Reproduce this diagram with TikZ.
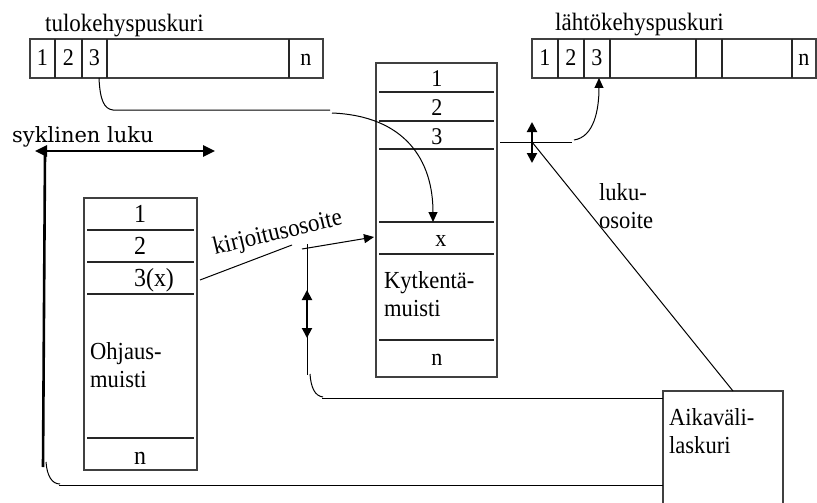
\documentclass[tikz,border=0pt]{standalone}
\usepackage{fontspec}
\setmainfont{Liberation Serif}[FakeStretch=0.92]
\newfontfamily\wideserif{DejaVu Serif}
\usetikzlibrary{arrows.meta}

\begin{document}
\begin{tikzpicture}[x=1pt,y=-1pt,
  frame/.style={draw=black!75, line width=1.1pt, inner sep=0pt, outer sep=0pt, anchor=north west},
  divider/.style={draw=black!85, line width=1.1pt},
  celltext/.style={font=\fontsize{24}{27}\selectfont, inner sep=0pt, anchor=base},
  bigcell/.style={font=\fontsize{26}{28}\selectfont, inner sep=0pt, anchor=base},
  blocktext/.style={font=\fontsize{24.5}{28.5}\selectfont, inner sep=0pt, align=left, anchor=west},
  title/.style={font=\fontsize{25}{28}\selectfont, inner sep=0pt, anchor=base west},
  wire/.style={draw=black, line width=1pt},
  tip/.style={-{Triangle[length=10pt,width=9pt]}},
  bus/.style={draw=black, line width=2pt, {Triangle[length=10pt,width=10pt]}-{Triangle[length=10pt,width=10pt]}},
  cycle bus/.style={draw=black, line width=2.6pt, {Triangle[length=12pt,width=11pt]}-{Triangle[length=12pt,width=11pt]}},
]
\useasboundingbox (0,0) rectangle (817,503);
\clip (0,0) rectangle (817,503);

% ---------- input frame buffer ----------
\node[title] (intitle) at (45,32) {tulokehyspuskuri};
\node[frame, minimum width=293pt, minimum height=39pt] (inbuf) at (30,39) {};
\foreach \xx in {55,82,107,289} \draw[divider] (\xx,39) -- (\xx,78);
\node[celltext] (in1) at (42.5,66) {1};
\node[celltext] (in2) at (68.5,66) {2};
\node[celltext] (in3) at (94.5,66) {3};
\node[celltext] (inn) at (306,66) {n};

% ---------- output frame buffer ----------
\node[title] (outtitle) at (555,31) {lähtökehyspuskuri};
\node[frame, minimum width=284pt, minimum height=39pt] (outbuf) at (532,39) {};
\foreach \xx in {558,584,610,696,722,792} \draw[divider] (\xx,39) -- (\xx,78);
\node[celltext] (out1) at (545,66) {1};
\node[celltext] (out2) at (571,66) {2};
\node[celltext] (out3) at (597,66) {3};
\node[celltext] (outn) at (804,66) {n};

% ---------- switching memory ----------
\node[frame, minimum width=121pt, minimum height=314pt] (kyt) at (376,63) {};
\foreach \yy in {92,121,149,222,254,340} \draw[divider] (379,\yy) -- (494,\yy);
\node[celltext] (kyt1) at (437,87) {1};
\node[celltext] (kyt2) at (437,115.5) {2};
\node[celltext] (kyt3) at (437,144) {3};
\node[celltext] (kytx) at (441,246) {x};
\node[celltext] (kytn) at (437,365) {n};
\node[blocktext] (kytname) at (384,294) {Kytkentä-\\muisti};

% ---------- control memory ----------
\node[frame, minimum width=113pt, minimum height=272pt] (ohj) at (84,198) {};
\foreach \yy in {230,262,294,438} \draw[divider] (87,\yy) -- (194,\yy);
\node[bigcell] (ohj1) at (140,222.5) {1};
\node[bigcell] (ohj2) at (140,254.5) {2};
\node[bigcell] (ohj3) at (154,286.5) {3(x)};
\node[bigcell] (ohjn) at (140,464) {n};
\node[blocktext] (ohjname) at (90,365) {Ohjaus-\\muisti};

% ---------- time slot counter ----------
\node[frame, minimum width=120pt, minimum height=130pt] (aika) at (663,391) {};
\node[blocktext] (aikaname) at (669,431) {Aikaväli-\\laskuri};

% ---------- labels ----------
\node[font=\wideserif\fontsize{21}{24}\selectfont, inner sep=0pt, anchor=base west] (sykl) at (12,142) {syklinen luku};
\node[blocktext] (lukuos) at (599,206) {luku-\\osoite};
\node[font=\fontsize{25}{28}\selectfont, inner sep=0pt, anchor=base west, rotate=13.5] (kirj) at (215,255) {kirjoitusosoite};

% ---------- connection points ----------
\coordinate (inC) at (99,78);
\coordinate (inB) at (113,110);
\coordinate (inE) at (330,110);
\coordinate (wrS) at (332,113);
\coordinate (kytX) at (433,222);
\coordinate (rdA) at (500,142);
\coordinate (rdB) at (572,142);
\coordinate (rdC) at (574,140);
\coordinate (outC) at (599,78);
\coordinate (rdV) at (532,142);
\coordinate (aikaT) at (733,391);
\coordinate (ohjX) at (200,280);
\coordinate (ohjY) at (292,245);
\coordinate (waA) at (302,249);
\coordinate (kytW) at (374,237);
\coordinate (waT) at (307,244);
\coordinate (waB) at (307,375);
\coordinate (waC) at (310,374);
\coordinate (waD) at (322,398);
\coordinate (aikaL1) at (663,398);
\coordinate (cyL) at (35,151);
\coordinate (cyR) at (215,151);
\coordinate (cyT) at (45,154);
\coordinate (cyB) at (43,467);
\coordinate (cyC) at (46,462);
\coordinate (cyD) at (59,485);
\coordinate (aikaL2) at (663,485);

% ---------- connectors ----------
% input slot 3 into the switching memory
\draw[wire] (inC) .. controls (100,100) and (104,109) .. (inB) -- (inE);
\draw[wire, tip] (wrS) .. controls (405,116) and (433,160) .. (kytX);
% read side towards the output buffer
\draw[wire] (rdA) -- (rdB);
\draw[wire, tip] (rdC) .. controls (594,137) and (599,110) .. (outC);
\draw[bus] (532,122) -- (532,163);
\draw[wire] (rdV) -- (aikaT);
% write address
\draw[wire] (ohjX) -- (ohjY);
\draw[wire, tip] (waA) -- (kytW);
\draw[wire] (waT) -- (waB);
\draw[bus] (307,290) -- (307,338);
\draw[wire] (waC) .. controls (311,388) and (315,396) .. (323,397);
\draw[wire] (waD) -- (aikaL1);
% cyclic read
\draw[cycle bus] (cyL) -- (cyR);
\draw[draw=black, line width=2.6pt] (cyT) -- (cyB);
\draw[wire] (cyC) .. controls (47,476) and (52,484) .. (60,484);
\draw[wire] (cyD) -- (aikaL2);
\end{tikzpicture}
\end{document}
